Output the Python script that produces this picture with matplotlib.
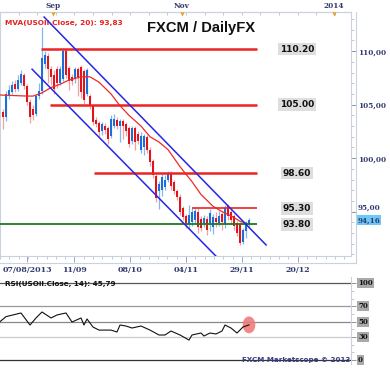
import numpy as np
import matplotlib
matplotlib.use('Agg')
import matplotlib.pyplot as plt
from matplotlib.patches import Ellipse
from matplotlib.lines import Line2D

# daily USOil candles (bar index 0 = 07/08/2013)
opens = [104.3, 103.8, 105.8, 106.2, 106.9, 106.5, 107.0, 107.8, 106.7, 105.2,
         104.6, 104.1, 105.8, 106.3, 108.8, 109.5, 108.3, 107.8, 108.3, 107.0,
         107.4, 110.0, 108.4, 107.6, 107.4, 108.3, 108.5, 108.1, 106.0, 105.8,
         104.9, 103.6, 103.3, 102.5, 103.0, 102.8, 102.1, 103.0, 103.6, 103.0,
         103.5, 103.2, 102.8, 101.6, 102.8, 102.3, 100.8, 101.0, 102.0, 100.8,
         99.7, 98.3, 96.9, 97.0, 97.3, 98.0, 98.6, 97.8, 96.9, 96.4,
         95.3, 94.6, 93.8, 94.0, 94.2, 95.0, 94.3, 93.9, 94.3, 93.9,
         93.6, 94.4, 93.9, 94.8, 93.8, 95.5, 95.0, 94.6, 93.9, 93.8,
         92.2, 93.2, 93.8]
closes = [103.8, 106.0, 106.4, 106.8, 106.5, 107.3, 107.9, 106.7, 105.2, 103.8,
          104.0, 105.8, 106.3, 109.4, 109.6, 108.3, 107.6, 106.5, 107.0, 108.3,
          110.0, 107.8, 107.2, 107.2, 108.3, 107.6, 106.2, 105.4, 108.2, 104.9,
          103.4, 103.2, 102.4, 103.2, 102.6, 101.8, 103.7, 103.7, 103.0, 103.5,
          103.0, 102.5, 101.3, 102.8, 101.5, 101.6, 102.1, 102.1, 100.8, 99.6,
          98.4, 96.3, 97.6, 98.2, 98.0, 98.6, 97.4, 96.9, 96.4, 95.0,
          94.5, 93.9, 94.7, 95.0, 95.1, 93.6, 93.5, 94.4, 93.3, 94.9,
          94.5, 94.0, 94.6, 94.0, 95.3, 94.6, 94.2, 93.7, 93.0, 92.1,
          93.3, 93.9, 94.2]
highs = [104.6, 106.3, 106.8, 107.2, 107.3, 107.8, 108.2, 108.0, 106.9, 105.5,
         105.0, 106.0, 107.0, 112.3, 110.0, 109.8, 108.6, 108.2, 108.6, 108.6,
         110.3, 110.2, 108.6, 107.9, 108.5, 108.5, 108.7, 108.3, 108.4, 106.0,
         105.0, 103.8, 103.5, 103.4, 103.3, 103.0, 104.0, 104.1, 103.8, 103.7,
         103.7, 103.4, 103.0, 103.0, 103.0, 102.5, 102.4, 102.3, 102.2, 101.0,
         99.9, 98.5, 97.9, 98.5, 98.4, 98.8, 98.8, 98.0, 97.1, 96.6,
         95.5, 94.8, 95.6, 95.3, 95.3, 95.3, 94.6, 94.7, 94.6, 95.2,
         94.8, 95.0, 95.1, 95.0, 95.6, 95.7, 95.2, 94.8, 94.1, 94.0,
         93.5, 94.1, 94.4]
lows = [102.7, 103.5, 105.5, 106.0, 106.2, 106.3, 106.8, 106.5, 105.0, 103.3,
        103.6, 103.9, 105.5, 106.0, 108.4, 107.0, 106.8, 106.0, 106.6, 106.8,
        107.2, 107.5, 106.4, 106.8, 107.0, 105.8, 105.6, 105.1, 105.8, 104.6,
        103.1, 102.9, 102.0, 102.2, 102.3, 101.3, 101.9, 102.8, 102.7, 101.5,
        101.8, 102.1, 101.0, 101.3, 100.8, 101.3, 100.5, 100.3, 100.5, 99.3,
        98.1, 95.9, 95.2, 96.5, 97.0, 97.8, 97.0, 96.6, 96.1, 94.7,
        94.2, 93.5, 93.4, 93.7, 93.9, 93.0, 93.2, 93.6, 92.8, 93.2,
        92.9, 93.6, 93.7, 93.3, 93.5, 94.2, 93.8, 93.3, 92.7, 91.9,
        92.0, 92.5, 93.6]

# 20-day moving average, read at some bars
ma_idx = [-1, 8, 10, 13, 16, 19, 22, 26, 29, 32, 36, 39, 42, 46, 49, 52, 55, 59, 63, 66, 70, 73, 76, 79, 82]
ma_val = [105.9, 105.8, 105.8, 106.1, 106.6, 106.9, 107.3, 107.6, 107.6, 107.1, 106.0, 104.9, 104.0,
          103.0, 102.0, 101.5, 100.8, 99.2, 97.8, 96.6, 95.5, 95.0, 94.6, 94.1, 93.83]

# RSI(14)
rsi_idx = [-1, 1, 6, 9, 11, 13, 16, 18, 21, 23, 26, 27, 28, 30, 32, 36, 38, 39, 41, 43, 46, 49,
           52, 54, 56, 59, 62, 63, 66, 67, 69, 71, 73, 74, 76, 78, 80, 82]
rsi_val = [50, 56.5, 61.3, 45.6, 54.8, 62.6, 54.8, 58.7, 61.3, 49.5, 54.8, 45.6, 53.5, 43, 39, 39,
           36.5, 45.6, 44.3, 41.7, 44.3, 39, 32.6, 32.6, 37.8, 32.6, 26, 32.6, 35.2, 31.3, 35.2,
           33.9, 37.8, 45.6, 41.7, 35.2, 43, 45.79]

# trend channel (bar, price)
upper_x = [13.7, 87.7]
upper_y = [113.19, 91.88]
lower_x = [9.7, 71.3]
lower_y = [108.31, 90.75]

levels = [110.20, 105.00, 98.60, 95.30]
level_start = [12.7, 15.7, 30.3, 63.0]
level_lw = [1.8, 1.8, 1.8, 1.2]
support = 93.80

date_pos = [8, 23.7, 42.3, 61, 79.7, 98.3]
date_lab = ['07/08/2013', '11/09', '08/10', '04/11', '29/11', '20/12']
top_pos = [16.7, 59.7, 110.3]
top_lab = ['Sep', 'Nov', '2014']

W, H = 390, 370
fig = plt.figure(figsize=(W / 100, H / 100), dpi=100)

navy = '#333a70'
frame = '#c9d2de'
serif_b = dict(family='DejaVu Serif', weight='bold')

# ---------------- price panel ----------------
ax = fig.add_axes([0, 1 - 256 / H, 351 / W, (256 - 12) / H])
ax.set_xlim(-1, 116)
ax.set_ylim(90.85, 113.66)

o = np.array(opens); c = np.array(closes)
hi = np.array(highs); lo = np.array(lows)
idx = np.arange(len(c))
up = c >= o
body_lo = np.minimum(o, c)
body_h = np.maximum(np.abs(c - o), 0.1)

ax.vlines(idx[up], lo[up], hi[up], color='#86b6ea', lw=0.9, zorder=2)
ax.vlines(idx[~up], lo[~up], hi[~up], color='#f2a0a0', lw=0.9, zorder=2)
ax.bar(idx[up], body_h[up], bottom=body_lo[up], width=0.72, color='#1c6fd6', zorder=3)
ax.bar(idx[~up], body_h[~up], bottom=body_lo[~up], width=0.72, color='#e0141c', zorder=3)

ax.plot(ma_idx, ma_val, color='#ee2a2a', lw=0.9, zorder=4)

ax.plot(upper_x, upper_y, color='#2626e6', lw=1.1, zorder=5)
ax.plot(lower_x, lower_y, color='#2626e6', lw=1.1, zorder=5)

for lev, x0, lw in zip(levels, level_start, level_lw):
    ax.hlines(lev, x0, 84.7, color='#ec2424', lw=lw, zorder=4)
    ax.text(98, lev, f'{lev:.2f}', ha='center', va='center', fontsize=6.5, weight='bold',
            color='#111111', bbox=dict(boxstyle='square,pad=0.2', fc='#dedede', ec='none'))
ax.hlines(support, -1, 84.7, color='#1f7a1f', lw=1.3, zorder=4)
ax.text(98, support, f'{support:.2f}', ha='center', va='center', fontsize=6.5, weight='bold',
        color='#111111', bbox=dict(boxstyle='square,pad=0.2', fc='#dedede', ec='none'))

ax.text(0.573, 0.934, 'FXCM / DailyFX', transform=ax.transAxes, ha='center', va='center',
        fontsize=10.6, weight='bold', family='Liberation Sans', color='#111111')
ax.text(0.014, 0.955, f'MVA(USOil.Close, 20): {ma_val[-1]:.2f}'.replace('.', ',').replace('USOil,', 'USOil.'),
        transform=ax.transAxes, ha='left', va='center', fontsize=5.3, weight='bold', color='#e82020')

for s in ax.spines.values():
    s.set_color(frame)
    s.set_linewidth(0.8)

# right price scale
ax.yaxis.tick_right()
ax.set_yticks([95, 100, 105, 110], labels=['95,00', '100,00', '105,00', '110,00'])
ax.set_yticks(np.arange(91, 114, 1.0), minor=True)
ax.tick_params(axis='y', which='major', direction='out', length=3.5, width=0.7, color='#8a94a8',
               labelsize=5.2, labelcolor=navy, pad=1.5)
ax.tick_params(axis='y', which='minor', direction='out', length=2, width=0.5, color='#aab2c2')
for t in ax.get_yticklabels():
    t.set_fontfamily('DejaVu Serif'); t.set_fontweight('bold')
ax.get_yticklabels()[0].set_va('bottom')
ax.annotate('94,16', xy=(1.018, closes[-1]), xycoords=('axes fraction', 'data'),
            ha='left', va='center', fontsize=5.2, color=navy, **serif_b,
            bbox=dict(boxstyle='square,pad=0.15', fc='#6cc8f6', ec='none'))

# bottom date scale
ax.set_xticks(date_pos, labels=date_lab)
ax.set_xticks(np.arange(-1, 116, 3.1), minor=True)
ax.tick_params(axis='x', which='major', direction='out', length=4, width=0.6, color='#8a94a8',
               labelsize=5.7, labelcolor=navy, pad=3)
ax.tick_params(axis='x', which='minor', direction='out', length=2, width=0.5, color='#aab2c2')
for t in ax.get_xticklabels():
    t.set_fontfamily('DejaVu Serif'); t.set_fontweight('bold')

# top month scale
sec = ax.secondary_xaxis('top')
sec.set_xticks(top_pos, labels=top_lab)
sec.set_xticks(np.arange(-1, 116, 6.2), minor=True)
sec.tick_params(axis='x', which='major', direction='in', length=2.5, width=0.6, color='#8a94a8',
                labelsize=5.3, labelcolor=navy, pad=1.5)
sec.tick_params(axis='x', which='minor', direction='in', length=2, width=0.5, color='#aab2c2')
sec.spines['top'].set_color(frame)
for t in sec.get_xticklabels():
    t.set_fontfamily('DejaVu Serif'); t.set_fontweight('bold')
ax.plot(top_pos, [0.99] * 3, 'v', transform=ax.get_xaxis_transform(), color='#f0a020',
        ms=3, mew=0, clip_on=False, zorder=6)

# ---------------- RSI panel ----------------
rx = fig.add_axes([0, 1 - 364 / H, 351 / W, (364 - 277) / H])
rx.set_xlim(-1, 116)
rx.set_ylim(-5.2, 108.2)
for lev, col in zip([100, 70, 50, 30, 0], ['#555555', '#999999', '#888888', '#cccccc', '#333333']):
    rx.axhline(lev, color=col, lw=0.9, zorder=1)
rx.add_patch(Ellipse((82, 45.8), 4.2, 22, color='#f07a7a', alpha=0.9, lw=0, zorder=2))
rx.plot(rsi_idx, rsi_val, color='#111111', lw=0.8, zorder=3)

rx.text(0.014, 0.92, f'RSI(USOil.Close, 14): {rsi_val[-1]:.2f}'.replace('.', ',').replace('USOil,', 'USOil.'),
        transform=rx.transAxes, ha='left', va='center', fontsize=5.2, weight='bold', color='#111111')
rx.text(0.843, 0, 'FXCM Marketscope \u00a9 2013', ha='center', va='center',
        transform=rx.get_yaxis_transform(), fontsize=5.1, weight='bold', color='#3c3c80')

rx.set_xticks([])
for s in ['top', 'left', 'bottom']:
    rx.spines[s].set_visible(False)
rx.spines['right'].set_color(frame)
rx.yaxis.tick_right()
rx.set_yticks([0, 30, 50, 70, 100], labels=[])
rx.set_yticks(np.arange(0, 101, 10), minor=True)
rx.tick_params(axis='y', which='major', direction='out', length=3.5, width=0.7, color='#8a94a8')
rx.tick_params(axis='y', which='minor', direction='out', length=2, width=0.5, color='#aab2c2')
for lev in [0, 30, 50, 70, 100]:
    rx.annotate(str(lev), xy=(1.02, lev), xycoords=('axes fraction', 'data'), ha='left', va='center',
                fontsize=5, color='#111111', **serif_b,
                bbox=dict(boxstyle='square,pad=0.15', fc='#a9a9a9', ec='none'))

# outer light frame of the price panel
fig.add_artist(Line2D([356 / W, 356 / W], [1 - 12 / H, 1 - 263 / H], color=frame, lw=0.8))
fig.add_artist(Line2D([0, 356 / W], [1 - 263 / H, 1 - 263 / H], color=frame, lw=0.8))

fig.savefig('out.png', dpi=100)
